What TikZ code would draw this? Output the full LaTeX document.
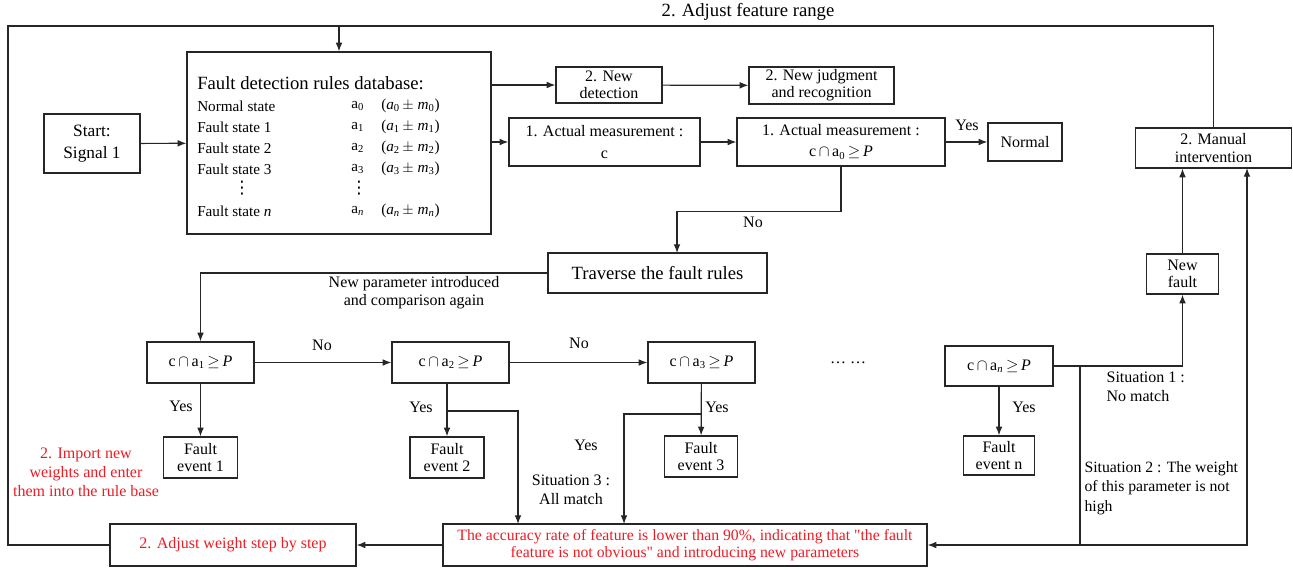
\documentclass[tikz,border=0pt]{standalone}
\usepackage{fontspec}
\setmainfont{Liberation Serif}
\newfontfamily\dotsfont{DejaVu Sans}
\usetikzlibrary{arrows.meta}
\definecolor{ruleRed}{RGB}{236,28,36}
\newcommand{\dq}{{\addfontfeatures{Ligatures=TeXOff}\symbol{34}}}
\newcommand{\vdotsmall}{{\dotsfont\fontsize{13}{13}\selectfont ⋮}}

\begin{document}
\begin{tikzpicture}[x=0.75pt,y=-0.75pt,
  box/.style={draw=black!85, line width=0.9pt, align=center, inner sep=1pt, font=\fontsize{12}{13}\selectfont},
  lbl/.style={align=center, inner sep=1pt, font=\fontsize{12}{14}\selectfont},
  rowtxt/.style={anchor=west, inner sep=0pt, font=\fontsize{11.4}{13}\selectfont},
  cmp/.style={box, font=\fontsize{12}{14}\selectfont},
  arr/.style={-{Latex[length=6.5pt,width=5pt]}},
  conn/.style={draw=black!85, line width=0.9pt}]
\useasboundingbox (0,0) rectangle (1293,569);
% Start and the rules database
\node[box, minimum width=72pt, minimum height=44.25pt, font=\fontsize{13}{16}\selectfont] (start) at (92,143.5) {Start:\\Signal 1};
\node[box, minimum width=228pt, minimum height=136.5pt] (db) at (339,143) {};
\node[anchor=west, inner sep=0pt, font=\fontsize{14}{16}\selectfont] (dbtitle) at (197,83) {Fault detection rules database:};
\foreach \lab/\s/\yy [count=\k] in {Normal state/0/106, Fault state 1/1/127, Fault state 2/2/148, Fault state 3/3/169, Fault state \textit{n}/\textit{n}/211}{
  \node[rowtxt] (lab\k) at (197,\yy) {\lab};
  \node[rowtxt] (a\k) at (351,\yy) {a\textsubscript{\s}};
  \node[rowtxt] (m\k) at (381,\yy) {(\textit{a}\textsubscript{\s}\,$\pm$\ \textit{m}\textsubscript{\s})};
}
\node[inner sep=0pt] (vd1) at (242,188) {\vdotsmall};
\node[inner sep=0pt] (vd2) at (359,188) {\vdotsmall};
% Upper branch
\node[box, minimum width=79.5pt, minimum height=27pt] (newdet) at (609,85) {2. New\\detection};
\node[box, minimum width=108.75pt, minimum height=27.75pt] (newjud) at (821.5,85.5) {2. New judgment\\and recognition};
\node[box, minimum width=143.25pt, minimum height=36pt, font=\fontsize{12}{16}\selectfont] (meas) at (604.5,142) {1. Actual measurement :\\c};
\node[box, minimum width=156pt, minimum height=36pt, font=\fontsize{12}{16}\selectfont] (meas0) at (841,142) {1. Actual measurement :\\c\,$\cap$\,a\textsubscript{0}\,$\geq$\,\textit{P}};
\node[box, minimum width=55.5pt, minimum height=28.5pt] (normal) at (1025,142) {Normal};
\node[box, minimum width=164.25pt, minimum height=30pt, font=\fontsize{14}{16}\selectfont] (traverse) at (657.5,273) {Traverse the fault rules};
% Comparison row
\node[cmp, minimum width=80.25pt, minimum height=30.75pt] (ca1) at (200.5,362.5) {c\,$\cap$\,a\textsubscript{1}\,$\geq$\,\textit{P}};
\node[cmp, minimum width=87.75pt, minimum height=30.75pt] (ca2) at (450.5,362.5) {c\,$\cap$\,a\textsubscript{2}\,$\geq$\,\textit{P}};
\node[cmp, minimum width=80.25pt, minimum height=30.75pt] (ca3) at (701.5,362.5) {c\,$\cap$\,a\textsubscript{3}\,$\geq$\,\textit{P}};
\node[cmp, minimum width=81pt, minimum height=30pt] (can) at (999,366) {c\,$\cap$\,a\textsubscript{\textit{n}}\,$\geq$\,\textit{P}};
\node[lbl] (dots) at (848,363) {\dots\ \dots};
\node[box, minimum width=55.5pt, minimum height=30.75pt] (fe1) at (200.5,457.5) {Fault\\event 1};
\node[box, minimum width=55.5pt, minimum height=30.75pt] (fe2) at (447,457.5) {Fault\\event 2};
\node[box, minimum width=54.75pt, minimum height=30.75pt] (fe3) at (701,456.5) {Fault\\event 3};
\node[box, minimum width=53.25pt, minimum height=29.25pt] (fen) at (999,455.5) {Fault\\event n};
% Right side
\node[box, minimum width=54pt, minimum height=30pt] (newfault) at (1182.5,274) {New\\fault};
\node[box, minimum width=117pt, minimum height=30pt] (manual) at (1213.5,148) {2. Manual\\intervention};
% Bottom row
\node[box, minimum width=363pt, minimum height=31.5pt, text=ruleRed, font=\fontsize{11.8}{12.8}\selectfont] (acc) at (685,545) {The accuracy rate of feature is lower than 90\%, indicating that \dq the fault\\feature is not obvious\dq\ and introducing new parameters};
\node[box, minimum width=184.5pt, minimum height=31.5pt, text=ruleRed] (adjw) at (233,545) {2. Adjust weight step by step};
% Labels
\node[lbl, font=\fontsize{14}{16}\selectfont] (toplbl) at (748,12) {2. Adjust feature range};
\node[lbl] (yes0) at (967,125) {Yes};
\node[lbl] (no0) at (753,222) {No};
\node[lbl, font=\fontsize{12}{13.5}\selectfont] (newpar) at (414,293) {New parameter introduced\\and comparison again};
\node[lbl] (no1) at (322,345) {No};
\node[lbl] (no2) at (579,343) {No};
\node[lbl] (yes1) at (181,406) {Yes};
\node[lbl] (yes2) at (421,407) {Yes};
\node[lbl] (yes3) at (717,407) {Yes};
\node[lbl] (yesn) at (1024,407) {Yes};
\node[lbl] (yes3b) at (586,445) {Yes};
\node[lbl] (sit3) at (571,490) {Situation 3 :\\All match};
\node[lbl, anchor=west, align=left] (sit1) at (1105,387) {Situation 1 :\\No match};
\node[lbl, anchor=west, align=left, font=\fontsize{11.8}{14.6}\selectfont] (sit2) at (1083,488) {Situation 2 : The weight\\of this parameter is not\\high};
\node[lbl, text=ruleRed, font=\fontsize{12}{14.3}\selectfont] (import) at (86,472) {2. Import new\\weights and enter\\them into the rule base};
% Bend points
\coordinate (tl) at (8,26);
\coordinate (tvin) at (677,253);
\coordinate (b2) at (447,411);
\coordinate (acc2) at (518,524);
\coordinate (b3) at (701,414);
\coordinate (acc3) at (624,524);
\coordinate (s2) at (1080,366);
\coordinate (mn2) at (1247,168);
% Connectors
\draw[conn, arr] (start) -- (db);
\draw[conn, arr] (db.east |- newdet.west) -- (newdet.west);
\draw[conn, arr] (newdet) -- (newjud);
\draw[conn, arr] (db.east |- meas.west) -- (meas.west);
\draw[conn, arr] (meas) -- (meas0);
\draw[conn, arr] (meas0) -- (normal);
\draw[conn, arr] (meas0.south) -- ++(0,45) -| (tvin);
\draw[conn, arr] (traverse.west) -| (ca1.north);
\draw[conn, arr] (ca1) -- (ca2);
\draw[conn, arr] (ca2) -- (ca3);
\draw[conn, arr] (ca1) -- (fe1);
\draw[conn, arr] (fe2.north |- ca2.south) -- (fe2.north);
\draw[conn, arr] (ca3) -- (fe3);
\draw[conn, arr] (can) -- (fen);
\draw[conn, arr] (b2) -| (acc2);
\draw[conn, arr] (b3) -| (acc3);
\draw[conn, arr] (can.east) -| (newfault.south);
\draw[conn, arr] (s2) |- (acc.east);
\draw[conn, arr] (s2 |- acc.east) -| (mn2);
\draw[conn, arr] (newfault) -- (newfault |- manual.south);
\draw[conn, arr] (acc) -- (adjw);
\draw[conn, arr] (adjw.west) -| (tl) -| (db.north);
\draw[conn] (manual.north) |- (db.north |- tl);
\end{tikzpicture}
\end{document}
